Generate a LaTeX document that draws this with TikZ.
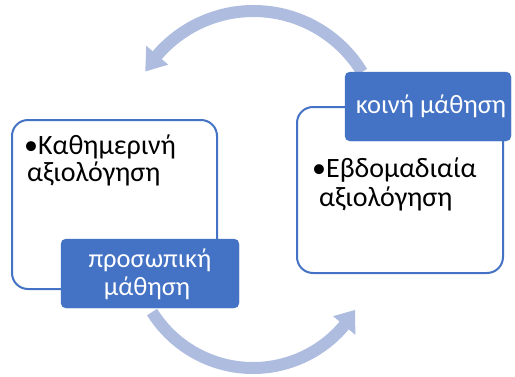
\documentclass[tikz,border=0pt]{standalone}
\usepackage{fontspec}
\setmainfont{Carlito}
\definecolor{accent}{RGB}{68,114,196}
\definecolor{arrowc}{RGB}{174,188,224}
\begin{document}
\begin{tikzpicture}[x=1pt,y=-1pt,
  wbox/.style={draw=accent, line width=2pt, fill=white, rounded corners=16pt, inner sep=0pt},
  bbox/.style={fill=accent, draw=accent, rounded corners=5pt, inner sep=0pt},
  btext/.style={inner sep=0pt, anchor=base west, font=\fontsize{28}{30}\selectfont, text=black},
  wtext/.style={inner sep=0pt, anchor=base, font=\fontsize{26.5}{28}\selectfont, text=white},
  arc/.style={draw=arrowc, line width=12pt},
  ahead/.style={fill=arrowc}]
\useasboundingbox (0,0) rectangle (515,376);
% centers of the cycle arrows
\coordinate (ct) at (253.5,138);
\coordinate (cb) at (253,249);
% top arrow
\draw[arc] ([shift={(ct)}]-31.3:127) arc[start angle=31.3, end angle=139.8, radius=127pt];
\fill[ahead] ([shift={(ct)}]-148.4:127) -- ([shift={(ct)}]-139.3:141.5) -- ([shift={(ct)}]-139.3:112.5) -- cycle;
% bottom arrow
\draw[arc] ([shift={(cb)}]148:119) arc[start angle=-148, end angle=-39.5, radius=119pt];
\fill[ahead] ([shift={(cb)}]30.8:119) -- ([shift={(cb)}]40:133.5) -- ([shift={(cb)}]40:104.5) -- cycle;
% white boxes
\node[wbox, minimum width=205pt, minimum height=169pt] (lbox) at (114.5,204.5) {};
\node[wbox, minimum width=206pt, minimum height=166pt] (rbox) at (400,190) {};
% blue boxes
\node[bbox, minimum width=178pt, minimum height=69pt] (lblue) at (150,273.5) {};
\node[bbox, minimum width=166pt, minimum height=69pt] (rblue) at (428,106.5) {};
% texts
\node[btext] (lt1) at (24,154) {•Καθημερινή};
\node[btext] (lt2) at (27,181) {αξιολόγηση};
\node[btext] (rt1) at (312,177) {•Εβδομαδιαία};
\node[btext] (rt2) at (319,206) {αξιολόγηση};
\node[wtext] (lb1) at (150,267) {προσωπική};
\node[wtext] (lb2) at (147,295) {μάθηση};
\node[wtext] (rb1) at (431,113) {κοινή μάθηση};
\end{tikzpicture}
\end{document}
